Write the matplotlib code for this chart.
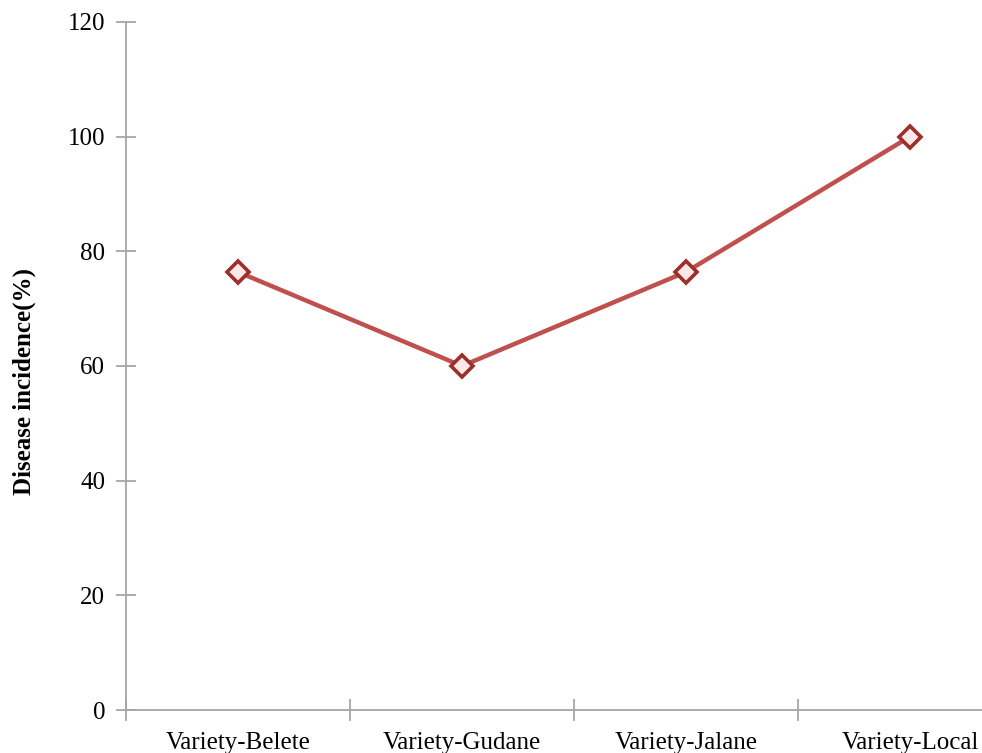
import matplotlib
matplotlib.use('Agg')
import matplotlib.pyplot as plt

# disease incidence per variety
varieties = ['Variety-Belete', 'Variety-Gudane', 'Variety-Jalane', 'Variety-Local']
incidence = [76.4, 60.0, 76.4, 100.0]

plt.rcParams['font.family'] = ['Liberation Serif', 'DejaVu Serif']

fig = plt.figure(figsize=(9.82, 7.53), dpi=100)
ax = fig.add_axes([0.1283, 0.0571, 0.9124, 0.9137])

x = list(range(len(varieties)))
ax.plot(x, incidence, color='#C0504D', linewidth=3.2, zorder=2)
ax.plot(x, incidence, linestyle='none', marker='D', markersize=11,
        markerfacecolor='#FBE8E7', markeredgecolor='#9B2F2C', markeredgewidth=2.6, zorder=3)

ax.set_xlim(-0.5, len(varieties) - 0.5)
ax.set_ylim(0, 120)
ax.set_yticks(range(0, 121, 20))
ax.set_xticks([i - 0.5 for i in range(len(varieties) + 1)])
ax.set_xticklabels([''] * (len(varieties) + 1))
ax.set_xticks(x, minor=True)
ax.set_xticklabels(varieties, minor=True, fontsize=18)
ax.tick_params(axis='x', which='minor', length=0, pad=16)
ax.tick_params(axis='x', which='major', direction='inout', length=16, color='#A6A6A6', width=1.3)
ax.tick_params(axis='y', direction='inout', length=14, color='#A6A6A6', width=1.3, labelsize=18, pad=8)

for side in ['top', 'right']:
    ax.spines[side].set_visible(False)
for side in ['left', 'bottom']:
    ax.spines[side].set_color('#A6A6A6')
    ax.spines[side].set_linewidth(1.3)

fig.text(24 / 982, 0.4934, 'Disease incidence(%)', rotation=90, ha='center', va='center',
         fontsize=18, fontweight='bold')

fig.savefig('out.png', dpi=100)
